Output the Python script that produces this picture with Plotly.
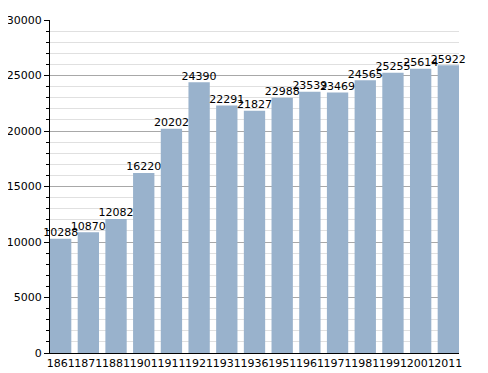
import plotly.graph_objects as go

years = ["1861", "1871", "1881", "1901", "1911", "1921", "1931", "1936",
         "1951", "1961", "1971", "1981", "1991", "2001", "2011"]
population = [10288, 10870, 12082, 16220, 20202, 24390, 22291, 21827,
              22988, 23539, 23469, 24565, 25255, 25614, 25922]

fig = go.Figure()
fig.add_trace(go.Bar(
    x=years, y=population,
    marker=dict(color="#99b2cc", line=dict(width=0)),
    hoverinfo="x+y",
))
fig.add_trace(go.Scatter(
    x=years, y=population, mode="text",
    text=[str(v) for v in population],
    textposition="top center",
    textfont=dict(family="DejaVu Sans", size=11, color="black"),
    cliponaxis=False, hoverinfo="skip",
))

fig.update_layout(
    width=480, height=365,
    margin=dict(l=42, r=29, t=12, b=20, pad=0),
    paper_bgcolor="white", plot_bgcolor="white",
    bargap=0.23,
    showlegend=False,
    font=dict(family="DejaVu Sans", size=11, color="black"),
)
fig.update_xaxes(
    type="category", range=[-0.385, len(years) - 1 + 0.385],
    showline=True, linecolor="black", linewidth=1,
    ticks="", tickangle=0, tickfont=dict(size=11), showgrid=False,
    automargin=False,
)
fig.update_yaxes(
    range=[0, 30000], dtick=5000, tickformat="d",
    showline=True, linecolor="black", linewidth=1,
    ticks="outside", ticklen=5, tickcolor="black",
    gridcolor="#a8a8a8", gridwidth=1, zeroline=False,
    tickfont=dict(size=11), automargin=False,
    minor=dict(dtick=1000, ticks="outside", ticklen=3, tickcolor="black",
               showgrid=True, gridcolor="#e0e0e0", gridwidth=1),
)

fig.write_html("out.html")
